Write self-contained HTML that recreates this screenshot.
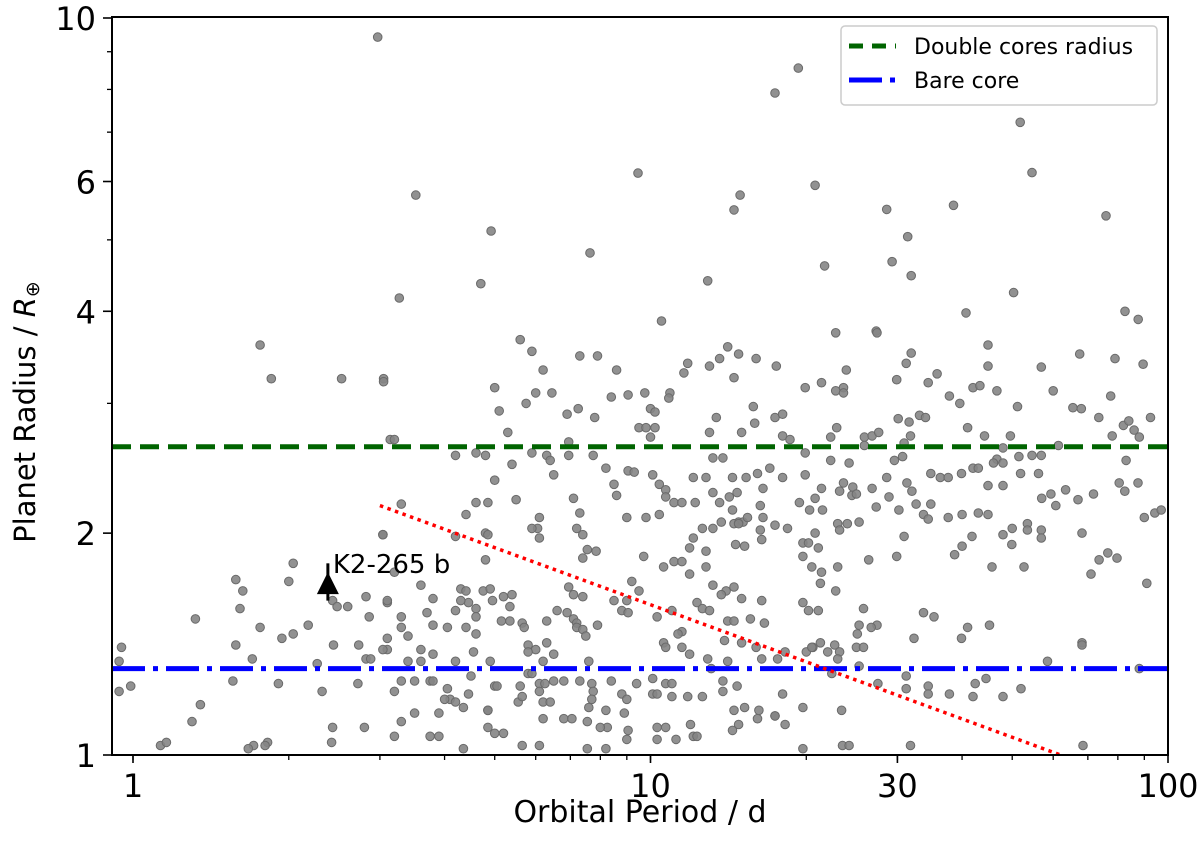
<!DOCTYPE html>
<html><head><meta charset="utf-8"><style>
html,body{margin:0;padding:0;background:#fff;}
svg{display:block;font-family:"DejaVu Sans","Liberation Sans",sans-serif;}
</style></head><body>
<svg id="chart" width="1200" height="847" viewBox="0 0 1200 847">
<rect x="0" y="0" width="1200" height="847" fill="#fff"/>
<g id="dots"></g>
<g id="lines"></g>
<g id="axes"></g>
</svg>
<script>
const xTicks=[1,10,30,100];
const xTickLabels=["1","10","30","100"];
const yTicks=[1,2,4,6,10];
const yTickLabels=["1","2","4","6","10"];
const doubleCoreRadius=2.62;
const bareCoreRadius=1.31;
const redLineP=[3.0,62];
const redLineR=[2.18,1.0];
const k2Period=2.38, k2Radius=1.70, k2ErrLo=1.62, k2ErrHi=1.82;
const planetsIsolated=[[2.97,9.42],[19.3,8.55],[17.4,7.91],[51.8,7.22],[9.46,6.16],[54.6,6.17],[3.52,5.75],[14.9,5.75],[14.5,5.49],[20.8,5.93],[28.6,5.5],[38.5,5.57],[75.9,5.39],[4.92,5.14],[31.4,5.05],[7.64,4.8],[21.7,4.61],[29.3,4.67],[31.9,4.47],[12.9,4.4],[4.7,4.36],[50.3,4.24],[3.27,4.17],[1.76,3.6],[1.85,3.24],[2.53,3.24],[3.05,3.24],[10.5,3.88],[27.3,3.76],[40.7,3.98],[82.6,4.0],[87.6,3.9]];
const planetsMidUpper=[[5.6,3.66],[5.9,3.53],[6.2,3.33],[7.3,3.48],[7.9,3.48],[8.6,3.33],[3.05,3.21],[5.0,3.15],[6.0,3.1],[6.45,3.1],[5.75,3.0],[5.1,2.93],[6.9,2.9],[7.25,2.95],[7.8,2.87],[8.4,3.06],[9.05,3.08],[9.75,3.1],[10.9,3.1],[10.85,3.05],[11.6,3.3],[11.8,3.4],[13.0,3.37],[13.6,3.45],[14.1,3.58],[14.8,3.5],[16.0,3.45],[14.5,3.25],[10.0,2.95],[10.2,2.92],[13.4,2.87],[15.8,2.97],[15.9,2.82],[15.0,2.74],[13.0,2.74],[9.5,2.78],[9.8,2.78],[10.2,2.78],[10.0,2.7],[5.3,2.74],[3.14,2.68],[3.2,2.68],[6.95,2.66]];
const planetsMid=[[4.2,2.55],[4.6,2.57],[4.8,2.55],[5.4,2.48],[5.9,2.57],[6.3,2.55],[6.4,2.51],[6.5,2.4],[6.95,2.55],[7.75,2.55],[8.2,2.45],[8.5,2.33],[8.6,2.25],[5.0,2.36],[5.5,2.22],[4.6,2.2],[4.85,2.2],[4.4,2.12],[3.3,2.19],[9.05,2.43],[9.3,2.42],[10.1,2.4],[10.4,2.33],[10.7,2.29],[10.7,2.24],[11.1,2.2],[11.5,2.2],[12.2,2.2],[12.1,2.38],[12.8,2.38],[13.2,2.53],[13.8,2.53],[13.2,2.27],[13.6,2.2],[14.2,2.24],[14.7,2.27],[14.4,2.38],[15.3,2.38],[16.1,2.41],[16.5,2.3],[16.3,2.18],[16.5,2.1],[14.4,2.15],[14.8,2.07],[15.1,2.07],[15.4,2.1],[7.1,2.23],[7.3,2.13],[7.2,2.03],[7.4,1.99],[6.1,2.1],[6.05,2.03],[6.1,1.97],[5.9,2.03],[4.8,2.0],[4.85,1.99],[4.2,1.98],[3.04,1.99],[9.0,2.1],[9.8,2.1],[10.4,2.12],[7.55,1.9],[7.85,1.89],[7.4,1.85],[9.7,1.86],[10.6,1.8],[11.1,1.83],[11.5,1.83],[11.9,1.76],[12.8,1.8],[12.1,1.97],[12.6,2.03],[13.2,2.03],[13.7,2.07],[11.9,1.91],[12.8,1.89],[14.5,2.06],[14.8,2.06],[14.6,1.93],[15.2,1.92],[16.3,2.02],[16.4,1.96],[4.8,1.84],[3.2,1.77],[3.6,1.7]];
const planetsMidLow=[[3.8,1.63],[3.7,1.56],[3.8,1.5],[4.3,1.68],[4.4,1.67],[4.45,1.61],[4.3,1.62],[4.2,1.57],[4.6,1.58],[4.6,1.54],[4.6,1.46],[4.75,1.67],[4.9,1.68],[4.95,1.62],[5.2,1.64],[5.4,1.65],[5.35,1.59],[5.15,1.52],[5.35,1.52],[5.65,1.51],[5.7,1.49],[6.3,1.52],[4.05,1.49],[4.4,1.49],[3.1,1.61],[3.1,1.44],[3.3,1.49],[3.3,1.54],[3.4,1.45],[6.6,1.57],[6.9,1.56],[7.1,1.53],[7.2,1.51],[7.2,1.49],[7.4,1.48],[7.5,1.45],[7.9,1.5],[6.95,1.69],[7.1,1.65],[7.4,1.64],[8.5,1.62],[9.0,1.62],[8.8,1.57],[9.05,1.56],[9.2,1.72],[9.5,1.67],[10.3,1.54],[11.0,1.57],[12.3,1.61],[12.6,1.58],[13.2,1.7],[14.0,1.67],[14.5,1.69],[13.7,1.65],[15.0,1.63],[13.0,1.57],[14.1,1.52],[14.5,1.52],[15.6,1.53],[16.4,1.62],[16.6,1.51],[11.5,1.47],[11.3,1.46],[13.9,1.43],[15.0,1.42],[6.3,1.42],[5.8,1.41],[6.0,1.39],[5.8,1.38],[6.5,1.37],[6.2,1.34],[7.6,1.34],[10.6,1.42],[10.7,1.4],[11.5,1.4],[11.9,1.37],[12.9,1.35],[13.1,1.31],[14.1,1.34],[16.0,1.4],[16.4,1.35],[3.6,1.39],[3.8,1.37],[3.6,1.34],[3.4,1.34],[3.1,1.39],[4.55,1.38],[4.9,1.34],[4.2,1.34]];
const planetsMidBottom=[[3.3,1.26],[3.5,1.26],[3.75,1.26],[3.8,1.26],[3.2,1.22],[4.05,1.23],[4.1,1.19],[4.0,1.19],[4.2,1.18],[4.35,1.16],[4.45,1.21],[4.5,1.28],[4.85,1.15],[5.0,1.24],[5.05,1.24],[5.6,1.24],[5.55,1.18],[5.65,1.2],[5.8,1.29],[5.9,1.29],[6.1,1.25],[6.1,1.22],[6.25,1.25],[6.5,1.26],[6.2,1.18],[6.4,1.18],[6.8,1.26],[7.3,1.26],[7.7,1.25],[7.75,1.22],[7.7,1.19],[7.6,1.16],[8.4,1.26],[8.8,1.21],[9.0,1.19],[9.4,1.25],[10.1,1.27],[10.7,1.25],[11.0,1.25],[10.1,1.21],[10.3,1.21],[11.0,1.2],[11.8,1.2],[12.6,1.2],[13.8,1.26],[14.7,1.24],[13.8,1.22],[3.3,1.11],[3.5,1.14],[3.9,1.14],[4.85,1.15],[5.2,1.07],[5.0,1.07],[4.85,1.09],[6.2,1.12],[6.8,1.12],[7.05,1.12],[7.55,1.11],[8.2,1.15],[8.9,1.14],[9.05,1.08],[8.25,1.09],[8.0,1.09],[10.3,1.09],[10.7,1.09],[11.2,1.05],[11.95,1.1],[12.1,1.06],[12.3,1.06],[14.5,1.15],[15.2,1.16],[14.4,1.08],[14.8,1.1],[16.1,1.12],[16.2,1.15],[17.4,1.13],[3.2,1.06],[3.75,1.06],[3.9,1.06],[4.35,1.02],[5.65,1.03],[6.1,1.03],[7.55,1.02],[8.2,1.02],[9.0,1.05],[10.3,1.05]];
const planetsRightUpper=[[22.8,3.74],[27.4,3.74],[44.9,3.6],[31.9,3.51],[31.2,3.4],[67.5,3.5],[79,3.45],[89.5,3.39],[17.5,3.37],[23.9,3.33],[44.9,3.37],[56.9,3.36],[19.9,3.15],[21.4,3.2],[22.8,3.12],[23.6,3.15],[23.6,3.1],[29.9,3.23],[34.4,3.2],[35.8,3.29],[37.8,3.07],[39.6,3.0],[42,3.15],[43.3,3.17],[46.7,3.12],[51.2,2.97],[60,3.12],[65.5,2.96],[68,2.95],[73.5,2.87],[77.5,3.07],[92.5,2.87],[17.4,2.87],[18,2.9],[18,2.71],[18.6,2.68],[22.9,2.78],[22.3,2.7],[25.9,2.7],[26.8,2.71],[27.6,2.74],[25.9,2.63],[30.1,2.86],[31.6,2.83],[33.1,2.89],[34,2.87],[31.8,2.71],[30.9,2.65],[41,2.78],[44.2,2.71],[49.6,2.71],[61.4,2.63],[78,2.71],[82,2.8],[84,2.84],[86,2.76],[88,2.7],[48,2.61],[46.7,2.52],[48,2.49],[51.5,2.54],[54.6,2.55],[56.9,2.55],[46,2.49]];
const planetsRightMid=[[19.9,2.57],[22.3,2.51],[24.2,2.49],[29.6,2.51],[30.7,2.54],[18,2.38],[19.9,2.4],[17,2.45],[28.6,2.38],[34.8,2.41],[36.3,2.38],[37.6,2.38],[39.9,2.41],[42,2.45],[43,2.45],[51.9,2.41],[56.2,2.41],[83,2.51],[80.5,2.34],[82.5,2.28],[87.5,2.34],[23.6,2.34],[24.6,2.31],[23.2,2.28],[24.5,2.25],[25,2.26],[21.4,2.3],[20.8,2.23],[20.3,2.15],[19.4,2.2],[21.5,2.15],[26.8,2.3],[27.3,2.17],[28.9,2.24],[30.2,2.15],[31.3,2.34],[32,2.28],[32.6,2.19],[34.8,2.19],[33.7,2.12],[34.4,2.09],[37.6,2.1],[40,2.12],[43,2.13],[44.9,2.12],[44.9,2.32],[48,2.32],[57,2.23],[59.4,2.26],[60.7,2.18],[63.4,2.29],[67,2.22],[71.8,2.26],[90,2.1],[94.3,2.13],[97,2.15],[17.4,2.05],[18.4,2.03],[23,2.06],[24,2.06],[23.2,2.02],[25.3,2.07],[20.8,2.0],[19.7,1.94],[20.2,1.94],[21.1,1.91],[19.7,1.86],[20.5,1.8],[21.4,1.77],[21.3,1.71],[22.8,1.67],[23,1.8],[26.4,1.84],[29.9,1.86],[30.9,1.98],[38.7,1.87],[40,1.92],[41.8,1.98],[48,1.99],[49.9,1.93],[50,2.03],[53.5,2.06],[53.5,2.02],[56.9,2.02],[56.9,1.97],[45.7,1.8],[52.7,1.8],[68.2,2.0],[73.6,1.84],[76.5,1.88],[79.7,1.85],[71,1.76],[91,1.71]];
const planetsRightLow=[[19.7,1.61],[20.2,1.57],[21.1,1.57],[25.8,1.58],[25.3,1.5],[25.1,1.46],[27.4,1.5],[26.7,1.49],[33.7,1.56],[35.3,1.54],[32.3,1.44],[41,1.49],[39.9,1.44],[45.2,1.5],[68.2,1.42],[68.2,1.41],[20.6,1.4],[21.3,1.42],[22.7,1.41],[23.2,1.38],[22,1.38],[25,1.4],[25.8,1.4],[23,1.35],[17.6,1.35],[18.2,1.38],[20,1.38],[20.5,1.4],[58.5,1.34],[22.4,1.29],[25.3,1.32],[27.5,1.25],[31.2,1.28],[31.2,1.23],[34.4,1.24],[34.4,1.21],[37.8,1.21],[42.4,1.25],[42,1.2],[44.5,1.27],[48,1.2],[52,1.23],[88,1.31],[18,1.21],[19.7,1.16],[23.4,1.15],[17.4,1.13],[18.2,1.1],[19.7,1.02],[23.5,1.03],[24.2,1.03],[31.8,1.03],[68.5,1.03]];
const planetsLeft=[[0.95,1.4],[0.94,1.34],[0.94,1.22],[0.99,1.24],[1.32,1.53],[1.35,1.17],[1.3,1.11],[1.13,1.03],[1.16,1.04],[1.58,1.73],[1.63,1.67],[1.61,1.58],[1.58,1.41],[1.7,1.35],[1.56,1.26],[2.04,1.82],[2.0,1.72],[1.76,1.49],[1.94,1.44],[2.04,1.46],[2.18,1.5],[1.71,1.03],[1.67,1.02],[1.82,1.04],[1.8,1.03],[1.91,1.25],[2.27,1.33],[2.32,1.22],[2.43,1.62],[2.48,1.59],[2.6,1.59],[2.82,1.64],[2.86,1.54],[2.44,1.41],[2.73,1.41],[2.82,1.35],[2.88,1.35],[2.72,1.25],[2.43,1.09],[2.42,1.04],[2.8,1.09],[3.04,1.99],[3.1,1.62],[3.04,1.39]];

const NS="http://www.w3.org/2000/svg";
const X0=133, XD=517.5, Y0=755, YD=737;
function xs(p){return X0+XD*Math.log10(p);}
function ys(r){return Y0-YD*Math.log10(r);}
function mk(tag,attrs,parent){const e=document.createElementNS(NS,tag);for(const k in attrs)e.setAttribute(k,attrs[k]);parent.appendChild(e);return e;}
const dots=document.getElementById('dots'), lines=document.getElementById('lines'), axes=document.getElementById('axes');
const all=[].concat(planetsIsolated,planetsMidUpper,planetsMid,planetsMidLow,planetsMidBottom,planetsRightUpper,planetsRightMid,planetsRightLow,planetsLeft);
all.forEach(d=>{
  const c=mk('circle',{cx:xs(d[0]).toFixed(1),cy:ys(d[1]).toFixed(1),r:4.3,fill:'#858585',stroke:'#6a6a6a','stroke-width':1,'fill-opacity':0.9},dots);
  
  
});
let g=mk('line',{x1:112,x2:1168,y1:ys(doubleCoreRadius),y2:ys(doubleCoreRadius),stroke:'#006400','stroke-width':5,'stroke-dasharray':'19,9'},lines);


let b=mk('line',{x1:112,x2:1168,y1:ys(bareCoreRadius),y2:ys(bareCoreRadius),stroke:'#0000ff','stroke-width':5,'stroke-dasharray':'33,8,5,8'},lines);


let rl=mk('line',{x1:xs(redLineP[0]),y1:ys(redLineR[0]),x2:xs(redLineP[1]),y2:ys(redLineR[1]),stroke:'#ff0000','stroke-width':3.5,'stroke-dasharray':'3.5,4.5'},lines);


const kx=xs(k2Period), ky=ys(k2Radius);
let ke=mk('line',{x1:kx,x2:kx,y1:ys(k2ErrHi),y2:ys(k2ErrLo),stroke:'#000','stroke-width':3},lines);


let kt=mk('polygon',{points:`${kx},${ky-13} ${kx-11},${ky+9} ${kx+11},${ky+9}`,fill:'#000'},lines);


let kl=mk('text',{x:kx+5,y:ky-12,'font-size':26,fill:'#000'},lines);kl.textContent='K2-265 b';


let fr=mk('rect',{x:112,y:17,width:1056,height:738,fill:'none',stroke:'#000','stroke-width':2},axes);


for(let dec=1;dec<=10;dec*=10){for(let m=1;m<10;m++){const v=dec*m;if(v<0.92||v>100)continue;
  const t=mk('line',{x1:xs(v),x2:xs(v),y1:755,y2:760,stroke:'#000','stroke-width':1.3},axes);
  
  }}
xTicks.forEach((v,i)=>{
  const t=mk('line',{x1:xs(v),x2:xs(v),y1:755,y2:763,stroke:'#000','stroke-width':1.6},axes);
  
  
  const l=mk('text',{x:xs(v),y:797,'font-size':32,'text-anchor':'middle',fill:'#000'},axes);l.textContent=xTickLabels[i];
  
  
});
[3,5,7,8,9].forEach(v=>{
  const t=mk('line',{x1:107,x2:112,y1:ys(v),y2:ys(v),stroke:'#000','stroke-width':1.3},axes);
  
  
});
yTicks.forEach((v,i)=>{
  const t=mk('line',{x1:103,x2:112,y1:ys(v),y2:ys(v),stroke:'#000','stroke-width':1.6},axes);
  
  
  const l=mk('text',{x:96,y:ys(v)+12,'font-size':32,'text-anchor':'end',fill:'#000'},axes);l.textContent=yTickLabels[i];
  
  
});
let xt=mk('text',{x:640,y:822,'font-size':30,'text-anchor':'middle',fill:'#000'},axes);xt.textContent='Orbital Period / d';


let yt=mk('text',{x:0,y:0,'font-size':29,'text-anchor':'middle',fill:'#000',transform:'translate(35,412) rotate(-90)'},axes);
yt.innerHTML='Planet Radius / <tspan font-style="italic">R</tspan><tspan font-size="19" dy="4">⊕</tspan>';


const lg=mk('g',{},axes);


mk('rect',{x:841,y:26,width:316,height:79,rx:4,fill:'#fff','fill-opacity':0.85,stroke:'#ccc','stroke-width':1.5},lg);
let l1=mk('line',{x1:849,x2:896,y1:46,y2:46,stroke:'#006400','stroke-width':5,'stroke-dasharray':'14,9'},lg);


let t1=mk('text',{x:914,y:54,'font-size':22,fill:'#000'},lg);t1.textContent='Double cores radius';


let l2=mk('line',{x1:849,x2:896,y1:80,y2:80,stroke:'#0000ff','stroke-width':5,'stroke-dasharray':'33,8,5,8'},lg);


let t2=mk('text',{x:914,y:88,'font-size':22,fill:'#000'},lg);t2.textContent='Bare core';


</script>
</body></html>
